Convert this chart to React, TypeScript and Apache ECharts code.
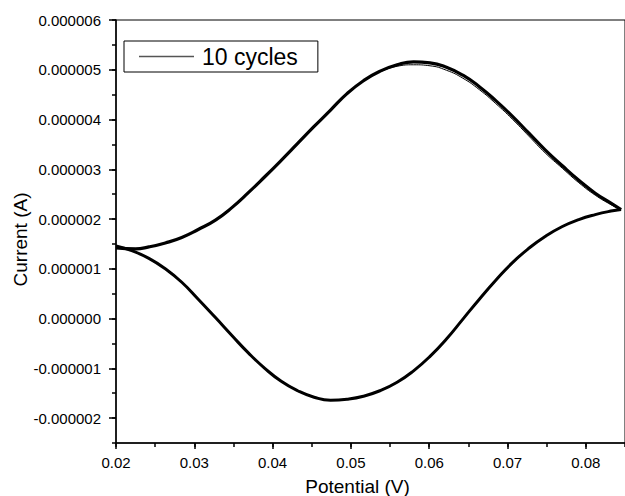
import React, { useEffect, useRef } from "react";
import * as echarts from "echarts";

// Potential (V) and current (µA) — cycles 2–10 (bundle)
const potentialForward = [0.02, 0.0225, 0.0242, 0.0263, 0.0284, 0.0305, 0.0327, 0.0348, 0.0369, 0.039, 0.0411, 0.0432, 0.0453, 0.0474, 0.0495, 0.0516, 0.0537, 0.0559, 0.058, 0.0601, 0.0622, 0.0643, 0.0664, 0.0685, 0.0706, 0.0727, 0.0748, 0.077, 0.0791, 0.0812, 0.0832, 0.0845];
const currentForward = [1.42, 1.40, 1.44, 1.52, 1.63, 1.79, 1.98, 2.23, 2.53, 2.85, 3.18, 3.52, 3.86, 4.19, 4.52, 4.78, 4.97, 5.10, 5.16, 5.14, 5.05, 4.89, 4.66, 4.38, 4.07, 3.73, 3.39, 3.07, 2.78, 2.52, 2.32, 2.19];

const potentialReverse = [0.0845, 0.0832, 0.0812, 0.0791, 0.077, 0.0748, 0.0727, 0.0706, 0.0685, 0.0664, 0.0643, 0.0622, 0.0601, 0.058, 0.0559, 0.0537, 0.0516, 0.0495, 0.0474, 0.0453, 0.0432, 0.0411, 0.039, 0.0369, 0.0348, 0.0327, 0.0305, 0.0284, 0.0263, 0.0242, 0.0221, 0.02];
const currentReverse = [2.19, 2.16, 2.09, 1.99, 1.85, 1.65, 1.41, 1.12, 0.77, 0.39, -0.01, -0.41, -0.76, -1.05, -1.28, -1.45, -1.56, -1.62, -1.64, -1.58, -1.45, -1.26, -1.00, -0.69, -0.34, 0.02, 0.39, 0.73, 1.00, 1.21, 1.36, 1.46];

// First cycle, forward scan (separates slightly from the bundle after the peak)
const potentialCycle1 = [0.0537, 0.0559, 0.058, 0.0601, 0.0622, 0.0643, 0.0664, 0.0685, 0.0706, 0.0727, 0.0748, 0.077, 0.0791, 0.0812, 0.0832, 0.0845];
const currentCycle1 = [4.96, 5.07, 5.10, 5.08, 4.99, 4.83, 4.60, 4.32, 4.01, 3.67, 3.33, 3.02, 2.73, 2.48, 2.29, 2.19];

const xTicks = [0.02, 0.03, 0.04, 0.05, 0.06, 0.07, 0.08];
const yTicks = [-2, -1, 0, 1, 2, 3, 4, 5, 6];

const seriesName = "10 cycles";
const xTitle = "Potential (V)";
const yTitle = "Current (A)";

const FONT = '"Liberation Sans", Arial, sans-serif';

const zip = (xs: number[], ys: number[]) => xs.map((x, i) => [x, ys[i]]);

export default function App() {
  const ref = useRef<HTMLDivElement>(null);
  useEffect(() => {
    if (!ref.current) return;
    const chart = echarts.init(ref.current, undefined, { renderer: "svg" });
    const axisLine = { color: "#000", width: 1.5 };
    const lineCommon = {
      type: "line",
      name: seriesName,
      symbol: "none",
      showSymbol: false,
      smooth: 0.5,
      itemStyle: { color: "#000" },
    };
    const option: any = {
      animation: false,
      backgroundColor: "#fff",
      grid: {
        left: 116,
        top: 20,
        width: 513.5,
        height: 423,
        show: true,
        borderColor: "#000",
        borderWidth: 1,
        backgroundColor: "transparent",
      },
      legend: {
        show: true,
        data: [seriesName],
        left: 124,
        top: 41,
        icon: "rect",
        itemWidth: 55,
        itemHeight: 1.5,
        itemStyle: { color: "#555" },
        padding: [4, 20, 4, 15],
        borderColor: "#000",
        borderWidth: 1,
        borderRadius: 0,
        backgroundColor: "#fff",
        selectedMode: false,
        textStyle: { fontSize: 23, color: "#000", fontFamily: FONT, padding: [0, 0, 0, 3] },
      },
      xAxis: [
        {
          type: "value",
          min: 0.02,
          max: 0.085,
          position: "bottom",
          axisLine: { show: true, onZero: false, lineStyle: axisLine },
          axisTick: { show: true, customValues: xTicks, length: 6, lineStyle: axisLine },
          axisLabel: {
            show: true,
            customValues: xTicks,
            formatter: (v: number) => v.toFixed(2),
            margin: 12,
            color: "#000",
            fontSize: 15,
            fontFamily: FONT,
          },
          splitLine: { show: false },
        },
        {
          type: "value",
          min: 0.02,
          max: 0.085,
          interval: 0.005,
          position: "bottom",
          axisLine: { show: false, onZero: false },
          axisTick: { show: true, length: 4, lineStyle: axisLine },
          axisLabel: { show: false },
          splitLine: { show: false },
        },
      ],
      yAxis: [
        {
          type: "value",
          min: -2.5,
          max: 6,
          position: "left",
          axisLine: { show: true, onZero: false, lineStyle: axisLine },
          axisTick: { show: true, customValues: yTicks, length: 7, lineStyle: axisLine },
          axisLabel: {
            show: true,
            customValues: yTicks,
            formatter: (v: number) => (v * 1e-6).toFixed(6),
            margin: 15,
            color: "#000",
            fontSize: 15,
            fontFamily: FONT,
          },
          splitLine: { show: false },
        },
        {
          type: "value",
          min: -2.5,
          max: 6,
          interval: 0.5,
          position: "left",
          axisLine: { show: false, onZero: false },
          axisTick: { show: true, length: 4, lineStyle: axisLine },
          axisLabel: { show: false },
          splitLine: { show: false },
        },
      ],
      series: [
        {
          ...lineCommon,
          data: zip(potentialForward, currentForward),
          lineStyle: { color: "#000", width: 3.2 },
        },
        {
          ...lineCommon,
          data: zip(potentialReverse, currentReverse),
          lineStyle: { color: "#000", width: 3 },
        },
        {
          ...lineCommon,
          data: zip(potentialCycle1, currentCycle1),
          lineStyle: { color: "#000", width: 1 },
        },
      ],
      graphic: [
        {
          type: "text",
          x: 357.5,
          y: 486,
          style: {
            text: xTitle,
            fontSize: 19,
            fontFamily: FONT,
            fill: "#000",
            textAlign: "center",
            textVerticalAlign: "middle",
          },
        },
        {
          type: "text",
          x: 20.5,
          y: 239.5,
          rotation: Math.PI / 2,
          style: {
            text: yTitle,
            fontSize: 19,
            fontFamily: FONT,
            fill: "#000",
            textAlign: "center",
            textVerticalAlign: "middle",
          },
        },
      ],
    };
    chart.setOption(option);
    return () => chart.dispose();
  }, []);
  return (
    <div
      ref={ref}
      style={{ position: "fixed", left: 0, top: 0, width: 625, height: 496, background: "#fff" }}
    />
  );
}
